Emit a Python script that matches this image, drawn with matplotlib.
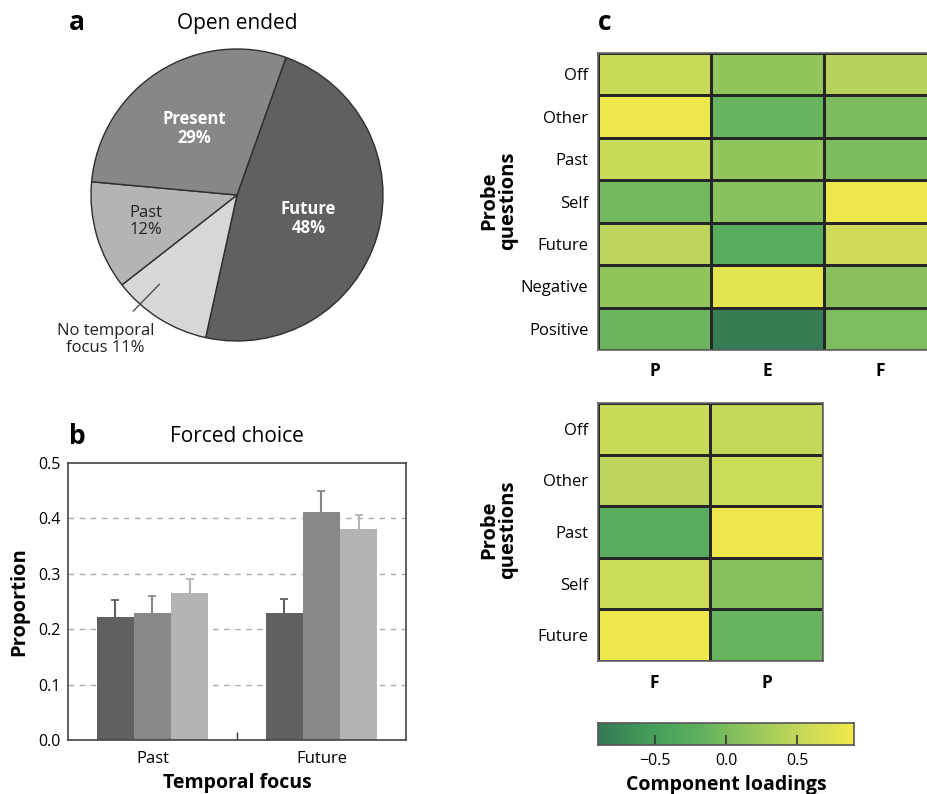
import numpy as np
import matplotlib
matplotlib.use("Agg")
import matplotlib.pyplot as plt
from matplotlib.colors import LinearSegmentedColormap, Normalize

plt.rcParams['font.family'] = ['Open Sans', 'DejaVu Sans']

# ---- data ----
pie_labels = ["Future", "No temporal\nfocus", "Past", "Present"]
pie_values = [48, 11, 12, 29]

bar_groups = ["Past", "Future"]
bar_means = [[0.222, 0.229], [0.230, 0.411], [0.265, 0.380]]
bar_errs = [[0.030, 0.026], [0.030, 0.038], [0.025, 0.027]]

rows_top = ["Off", "Other", "Past", "Self", "Future", "Negative", "Positive"]
cols_top = ["P", "E", "F"]
load_top = np.array([
    [0.55, 0.15, 0.42],
    [0.85, -0.12, 0.00],
    [0.55, 0.15, 0.00],
    [-0.05, 0.08, 0.85],
    [0.45, -0.25, 0.58],
    [0.15, 0.78, 0.10],
    [-0.10, -0.85, 0.02],
])

rows_bot = ["Off", "Other", "Past", "Self", "Future"]
cols_bot = ["F", "P"]
load_bot = np.array([
    [0.55, 0.52],
    [0.45, 0.57],
    [-0.25, 0.86],
    [0.57, 0.08],
    [0.84, -0.12],
])

W, H = 928, 794
fig = plt.figure(figsize=(W / 100, H / 100), dpi=100)


def box(l, t, r, b):
    return [l / W, 1 - b / H, (r - l) / W, (b - t) / H]


# ---- panel a: pie ----
pie_colors = ["#5f615e", "#d6d8d5", "#b4b4b4", "#878787"]
axp = fig.add_axes(box(91, 49, 383, 341))
wedges, _ = axp.pie(pie_values, colors=pie_colors, startangle=70.4, counterclock=False,
                    wedgeprops=dict(edgecolor="#2e2e2e", linewidth=1.0))
axp.set_xlim(-1.0, 1.0)
axp.set_ylim(-1.0, 1.0)
axp.set_aspect("equal")

mids = [np.deg2rad((w.theta1 + w.theta2) / 2) for w in wedges]
axp.text(0.51 * np.cos(mids[0]), 0.51 * np.sin(mids[0]) - 0.02, f"Future\n{pie_values[0]}%",
         ha="center", va="center", color="white", fontsize=12, fontweight="bold", linespacing=1.1)
axp.text(0.54 * np.cos(mids[3]), 0.54 * np.sin(mids[3]), f"Present\n{pie_values[3]}%",
         ha="center", va="center", color="white", fontsize=12, fontweight="bold", linespacing=1.1)
axp.text(0.65 * np.cos(mids[2]), 0.65 * np.sin(mids[2]), f"Past\n{pie_values[2]}%",
         ha="center", va="center", color="#222222", fontsize=12, linespacing=1.1)
axp.annotate(f"{pie_labels[1]} {pie_values[1]}%", xy=(-0.53, -0.61), xytext=(-0.90, -0.99),
             ha="center", va="center", fontsize=12, color="#222222", linespacing=1.1,
             arrowprops=dict(arrowstyle="-", color="#444444", lw=0.9, shrinkA=9, shrinkB=0),
             annotation_clip=False)
fig.text(237 / W, 1 - 23 / H, "Open ended", ha="center", va="center", fontsize=15)
fig.text(77 / W, 1 - 22 / H, "a", ha="center", va="center", fontsize=19, fontweight="bold")

# ---- panel b: bars ----
axb = fig.add_axes(box(68, 463, 406, 740))
bar_colors = ["#5f615e", "#888888", "#b4b4b4"]
bw = 0.22
x = np.arange(len(bar_groups))
for i in range(3):
    xs = x + (i - 1) * bw
    axb.bar(xs, bar_means[i], width=bw, color=bar_colors[i], zorder=2)
    eb = axb.errorbar(xs, bar_means[i], yerr=[np.zeros(2), bar_errs[i]], fmt="none",
                      ecolor=bar_colors[i], elinewidth=1.5, capsize=3, capthick=1.3, zorder=3)
    # keep only the upper cap
    eb.lines[1][0].set_visible(False)
axb.set_xlim(-0.5, 1.5)
axb.set_ylim(0, 0.5)
axb.set_yticks([0.0, 0.1, 0.2, 0.3, 0.4, 0.5])
axb.set_yticklabels(["0.0", "0.1", "0.2", "0.3", "0.4", "0.5"])
axb.set_xticks(x)
axb.set_xticklabels(bar_groups)
axb.set_xticks([0.5], minor=True)
axb.tick_params(axis="x", which="major", length=0, labelsize=12, pad=8)
axb.tick_params(axis="x", which="minor", direction="in", length=6, width=1, color="#333333")
axb.tick_params(axis="y", length=0, labelsize=11.5, pad=5)
for yv in [0.1, 0.2, 0.3, 0.4]:
    axb.axhline(yv, color="#aaaaaa", lw=1.0, ls=(0, (4, 4)), zorder=1)
for s in axb.spines.values():
    s.set_color("#444444")
    s.set_linewidth(1.2)
axb.set_ylabel("Proportion", fontsize=14.5, fontweight="bold", labelpad=7)
axb.set_xlabel("Temporal focus", fontsize=14, fontweight="bold", labelpad=4)
fig.text(237 / W, 1 - 437 / H, "Forced choice", ha="center", va="center", fontsize=15)
fig.text(77 / W, 1 - 436 / H, "b", ha="center", va="center", fontsize=19, fontweight="bold")

# ---- panel c: loadings heatmaps ----
cmap = LinearSegmentedColormap.from_list("loadings", [
    (0.00, "#347856"),
    (0.22, "#45a05a"),
    (0.39, "#5cae5e"),
    (0.50, "#7bbc5d"),
    (0.66, "#a5cb5a"),
    (0.80, "#c8d95a"),
    (1.00, "#f2ea4a"),
])
norm = Normalize(vmin=-0.9, vmax=0.9)


def heat(ax, data, rows, cols):
    ax.pcolormesh(data, cmap=cmap, norm=norm, edgecolors="#262626", linewidth=0.75)
    ax.set_xlim(0, data.shape[1])
    ax.set_ylim(data.shape[0], 0)
    ax.set_xticks(np.arange(len(cols)) + 0.5)
    ax.set_xticklabels(cols, fontsize=12.5, fontweight="bold")
    ax.set_yticks(np.arange(len(rows)) + 0.5)
    ax.set_yticklabels(rows, fontsize=12)
    ax.tick_params(axis="y", length=0, pad=7)
    ax.tick_params(axis="x", length=0, pad=9)
    for s in ax.spines.values():
        s.set_color("#666666")
        s.set_linewidth(1.2)


axh1 = fig.add_axes(box(598, 53, 937, 350))
heat(axh1, load_top, rows_top, cols_top)
axh2 = fig.add_axes(box(598, 403, 823, 661))
heat(axh2, load_bot, rows_bot, cols_bot)

for yc in [201, 530]:
    fig.text(499 / W, 1 - yc / H, "Probe\nquestions", ha="center", va="center", rotation=90,
             fontsize=14.5, fontweight="bold", linespacing=0.95)
fig.text(605 / W, 1 - 22 / H, "c", ha="center", va="center", fontsize=19, fontweight="bold")

# colorbar
axc = fig.add_axes(box(598, 723, 854, 745))
grad = np.linspace(-0.9, 0.9, 256)
axc.pcolormesh(grad, [0, 1], grad[np.newaxis, :-1], cmap=cmap, norm=norm, shading="flat")
axc.set_xlim(-0.9, 0.9)
axc.set_ylim(0, 1)
axc.set_yticks([])
axc.set_xticks([-0.5, 0.0, 0.5])
axc.set_xticklabels(["\u22120.5", "0.0", "0.5"])
axc.tick_params(axis="x", direction="in", length=7, width=1.2, color="#333333", labelsize=11.5, pad=6)
for s in axc.spines.values():
    s.set_color("#555555")
    s.set_linewidth(1.2)
axc.set_xlabel("Component loadings", fontsize=14, fontweight="bold", labelpad=4)

fig.savefig("out.png", dpi=100)
